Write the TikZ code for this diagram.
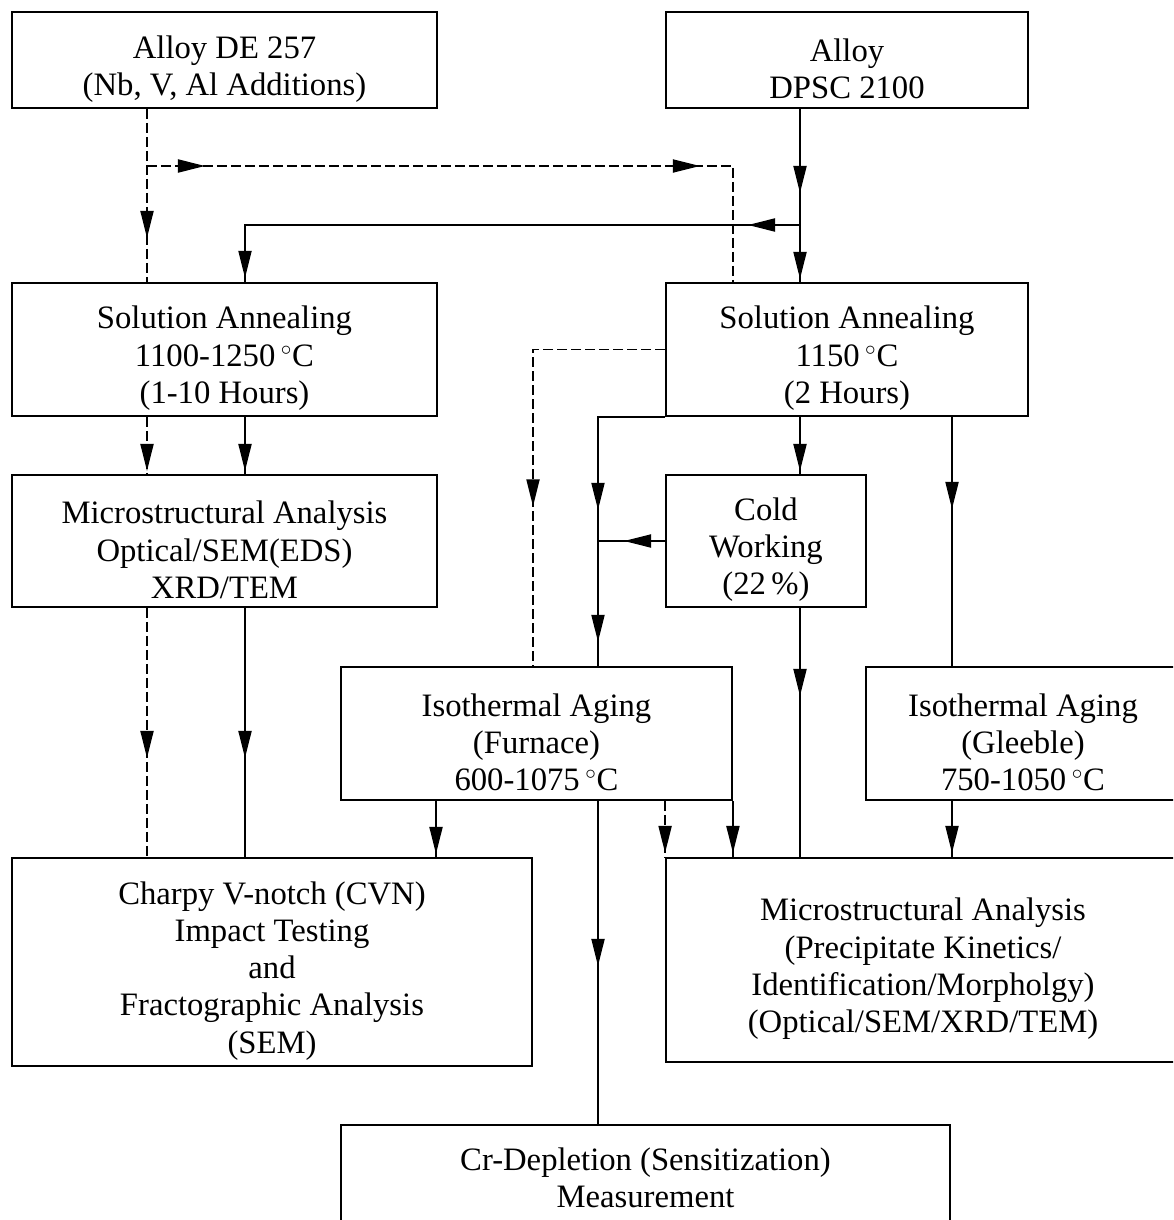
\documentclass[tikz,border=0pt]{standalone}
\usepackage{fontspec}
\setmainfont{Liberation Serif}
\usetikzlibrary{arrows.meta,decorations.markings}

\newcommand{\lowstrut}{\rule{0pt}{23pt}}

\tikzset{
  box/.style={draw, line width=1.1pt, align=center, inner sep=0pt,
    font=\fontsize{18.6}{21.2}\selectfont},
  link/.style={line width=1.1pt},
  dline/.style={link, dash pattern=on 0.2cm off 0.08cm},
  midarr/.style={postaction={decorate,decoration={markings,
    mark=at position #1 with {\arrow{Triangle[length=0.54cm,width=0.26cm]}}}}}
}

\begin{document}
\begin{tikzpicture}[x=0.02cm, y=-0.02cm]
    \useasboundingbox (0,0) rectangle (1173,1220);
    \clip (0,0) rectangle (1173,1220);

    % boxes
    \node[box, minimum width=8.5cm, minimum height=1.92cm] (deA) at (224.5,60) {\lowstrut Alloy DE 257\\(Nb, V, Al Additions)};
    \node[box, minimum width=7.24cm, minimum height=1.92cm] (dpsc) at (847,60) {\lowstrut Alloy\\DPSC 2100};
    \node[box, minimum width=8.5cm, minimum height=2.66cm] (annA) at (224.5,349.5) {\lowstrut Solution Annealing\\1100-1250\,$^{\circ}$C\\(1-10 Hours)};
    \node[box, minimum width=7.24cm, minimum height=2.66cm] (annB) at (847,349.5) {\lowstrut Solution Annealing\\1150\,$^{\circ}$C\\(2 Hours)};
    \node[box, minimum width=8.5cm, minimum height=2.64cm] (microA) at (224.5,541) {\lowstrut Microstructural Analysis\\Optical/SEM(EDS)\\XRD/TEM};
    \node[box, minimum width=4cm, minimum height=2.64cm] (cold) at (766,541) {\lowstrut Cold\\Working\\(22\,\%)};
    \node[box, minimum width=7.82cm, minimum height=2.66cm] (agingF) at (536.5,733.5) {\lowstrut Isothermal Aging\\(Furnace)\\600-1075\,$^{\circ}$C};
    \node[box, minimum width=6.28cm, minimum height=2.66cm] (agingG) at (1023,733.5) {\lowstrut Isothermal Aging\\(Gleeble)\\750-1050\,$^{\circ}$C};
    \node[box, minimum width=10.4cm, minimum height=4.16cm] (charpy) at (272,962) {\lowstrut Charpy V-notch (CVN)\\Impact Testing\\and\\Fractographic Analysis\\(SEM)};
    \node[box, minimum width=10.28cm, minimum height=4.08cm] (microB) at (923,960) {\lowstrut Microstructural Analysis\\(Precipitate Kinetics/\\Identification/Morpholgy)\\(Optical/SEM/XRD/TEM)};
    \node[box, minimum width=12.18cm, minimum height=2.12cm] (crdep) at (645.5,1178) {Cr-Depletion (Sensitization)\\Measurement};

    % columns and rows of the connectors
    \coordinate (c1) at (147,0);
    \coordinate (c2) at (245,0);
    \coordinate (c3) at (436,0);
    \coordinate (c4) at (533,0);
    \coordinate (c5) at (598,0);
    \coordinate (c7) at (733,0);
    \coordinate (c8) at (800,0);
    \coordinate (c9) at (952,0);
    \coordinate (r1) at (0,166);
    \coordinate (r2) at (0,225);

    % alloys to annealing
    \draw[dline, midarr=2.58cm] (deA.south -| c1) -- (annA.north -| c1);
    \draw[dline, midarr=1.16cm, midarr=11.06cm] (c1 |- r1) -- (c7 |- r1) -- (annB.north -| c7);
    \draw[link, midarr=1.68cm, midarr=3.4cm] (dpsc.south -| c8) -- (annB.north -| c8);
    \draw[link, midarr=1.04cm, midarr=12.16cm] (c8 |- r2) -- (c2 |- r2) -- (annA.north -| c2);

    % left branch
    \draw[dline, midarr=1.08cm] (annA.south -| c1) -- (microA.north -| c1);
    \draw[link, midarr=1.08cm] (annA.south -| c2) -- (microA.north -| c2);
    \draw[dline, midarr=3cm] (microA.south -| c1) -- (charpy.north -| c1);
    \draw[link, midarr=3cm] (microA.south -| c2) -- (charpy.north -| c2);

    % right branch
    \draw[dline, midarr=5.78cm] (annB.west) -- (c4 |- annB.west) -- (agingF.north -| c4);
    \draw[link, midarr=3.2cm, midarr=5.84cm] (annB.south west) -- (c5 |- annB.south) -- (agingF.north -| c5);
    \draw[link, midarr=0.82cm] (cold.west) -- (c5 |- cold.west);
    \draw[link, midarr=1.08cm] (annB.south -| c8) -- (cold.north -| c8);
    \draw[link, midarr=1.84cm] (annB.south -| c9) -- (agingG.north -| c9);
    \draw[link, midarr=1.76cm] (cold.south -| c8) -- (microB.north -| c8);

    % aging to testing
    \draw[link, midarr=1.06cm] (agingF.south -| c3) -- (charpy.north -| c3);
    \draw[link, midarr=3.3cm] (agingF.south -| c5) -- (crdep.north -| c5);
    \draw[dline, midarr=1.04cm] (agingF.south -| microB.north west) -- (microB.north west);
    \draw[link, midarr=1.04cm] (agingF.south east) -- (microB.north -| agingF.east);
    \draw[link, midarr=1.04cm] (agingG.south -| c9) -- (microB.north -| c9);
\end{tikzpicture}
\end{document}
